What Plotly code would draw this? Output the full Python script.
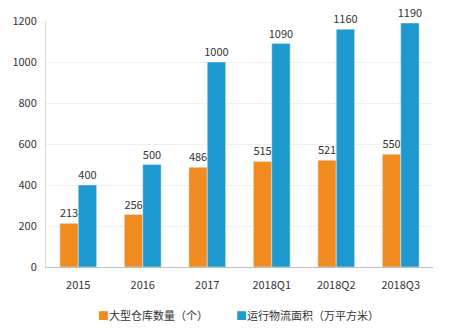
import plotly.graph_objects as go

categories = ["2015", "2016", "2017", "2018Q1", "2018Q2", "2018Q3"]
warehouses = [213, 256, 486, 515, 521, 550]
area = [400, 500, 1000, 1090, 1160, 1190]
y_ticks = [0, 200, 400, 600, 800, 1000, 1200]
series_names = ["大型仓库数量（个）", "运行物流面积（万平方米）"]
colors = ["#F28B1F", "#1E9AD0"]

FONT = "Noto Sans CJK SC, Noto Sans, sans-serif"

fig = go.Figure()
for vals, name, col in zip([warehouses, area], series_names, colors):
    fig.add_trace(go.Bar(
        x=categories, y=vals, name=name,
        marker_color=col, text=vals, textposition="outside",
        constraintext="none",
        textfont=dict(size=11, color="#333333"), cliponaxis=False,
    ))

legend_x = [0.13, 0.485]
for lx, name, col in zip(legend_x, series_names, colors):
    fig.add_annotation(
        x=lx, y=317, xref="paper", yref="paper", yanchor="middle", xanchor="left",
        text=f"<span style='color:{col}'>■</span>{name}", showarrow=False,
        font=dict(size=11, color="#333333", family=FONT),
    )

fig.update_layout(
    width=465, height=330,
    margin=dict(l=40, r=32, t=13, b=63),
    paper_bgcolor="white", plot_bgcolor="white",
    barmode="group", bargap=0.43, bargroupgap=0,
    font=dict(family=FONT, size=11, color="#333333"),
    showlegend=False,
    xaxis=dict(showline=True, linecolor="#BFBFBF", linewidth=1, ticks="",
               ticklabelstandoff=8,
               tickfont=dict(size=11, color="#333333")),
    yaxis=dict(range=[0, 1200], tickvals=y_ticks, showline=True, linecolor="#D9D9D9",
               gridcolor="#F0F0F0", zeroline=False, ticks="", ticklabelstandoff=6,
               tickfont=dict(size=11, color="#333333")),
)
# convert legend y from pixels to paper coords
plot_h = 330 - 13 - 63
for ann in fig.layout.annotations:
    ann.y = (330 - 63 - 317) / plot_h

fig.write_html("out.html")
